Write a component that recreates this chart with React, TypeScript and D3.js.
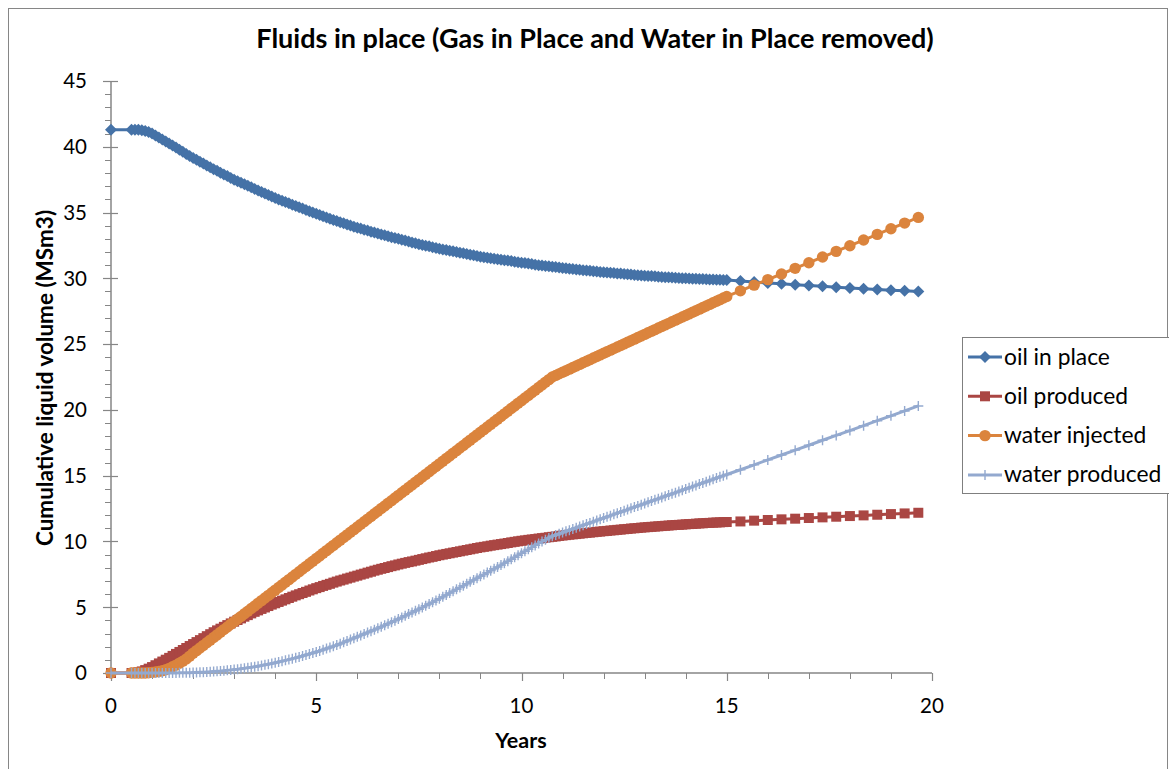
import React from 'react';
import * as d3 from 'd3';

// time axis in months since start (dense monthly output, then every 4 months)
const months = [
  0,
  6, 7, 8, 9, 10, 11, 12, 13, 14, 15,
  16, 17, 18, 19, 20, 21, 22, 23, 24, 25,
  26, 27, 28, 29, 30, 31, 32, 33, 34, 35,
  36, 37, 38, 39, 40, 41, 42, 43, 44, 45,
  46, 47, 48, 49, 50, 51, 52, 53, 54, 55,
  56, 57, 58, 59, 60, 61, 62, 63, 64, 65,
  66, 67, 68, 69, 70, 71, 72, 73, 74, 75,
  76, 77, 78, 79, 80, 81, 82, 83, 84, 85,
  86, 87, 88, 89, 90, 91, 92, 93, 94, 95,
  96, 97, 98, 99, 100, 101, 102, 103, 104, 105,
  106, 107, 108, 109, 110, 111, 112, 113, 114, 115,
  116, 117, 118, 119, 120, 121, 122, 123, 124, 125,
  126, 127, 128, 129, 130, 131, 132, 133, 134, 135,
  136, 137, 138, 139, 140, 141, 142, 143, 144, 145,
  146, 147, 148, 149, 150, 151, 152, 153, 154, 155,
  156, 157, 158, 159, 160, 161, 162, 163, 164, 165,
  166, 167, 168, 169, 170, 171, 172, 173, 174, 175,
  176, 177, 178, 179, 180,
  184, 188, 192, 196, 200, 204, 208, 212, 216, 220, 224, 228, 232, 236,
];

const oilInPlace = [
  41.30,
  41.30, 41.30, 41.29, 41.25, 41.19, 41.13, 41.00, 40.85, 40.70, 40.55,
  40.40, 40.25, 40.10, 39.94, 39.78, 39.62, 39.45, 39.30, 39.15, 39.01,
  38.87, 38.73, 38.58, 38.44, 38.30, 38.17, 38.03, 37.90, 37.77, 37.63,
  37.50, 37.38, 37.27, 37.15, 37.03, 36.92, 36.80, 36.68, 36.57, 36.45,
  36.33, 36.22, 36.10, 36.00, 35.90, 35.80, 35.70, 35.60, 35.50, 35.40,
  35.30, 35.20, 35.10, 35.00, 34.90, 34.81, 34.72, 34.63, 34.53, 34.44,
  34.35, 34.27, 34.18, 34.10, 34.02, 33.93, 33.85, 33.78, 33.70, 33.63,
  33.55, 33.48, 33.40, 33.33, 33.27, 33.20, 33.13, 33.07, 33.00, 32.93,
  32.87, 32.80, 32.73, 32.67, 32.60, 32.54, 32.48, 32.43, 32.37, 32.31,
  32.25, 32.20, 32.15, 32.10, 32.05, 32.00, 31.95, 31.90, 31.85, 31.80,
  31.75, 31.70, 31.65, 31.61, 31.57, 31.53, 31.49, 31.45, 31.42, 31.38,
  31.35, 31.31, 31.26, 31.23, 31.19, 31.16, 31.12, 31.09, 31.04, 31.00,
  30.97, 30.94, 30.91, 30.88, 30.86, 30.82, 30.79, 30.77, 30.73, 30.71,
  30.68, 30.65, 30.62, 30.59, 30.57, 30.54, 30.52, 30.49, 30.47, 30.44,
  30.42, 30.40, 30.37, 30.36, 30.33, 30.31, 30.29, 30.26, 30.24, 30.22,
  30.20, 30.18, 30.17, 30.15, 30.12, 30.11, 30.09, 30.08, 30.06, 30.05,
  30.03, 30.01, 30.00, 29.99, 29.97, 29.96, 29.95, 29.94, 29.93, 29.92,
  29.91, 29.90, 29.89, 29.88, 29.87,
  29.80, 29.72, 29.65, 29.58, 29.51, 29.45, 29.39, 29.33, 29.27, 29.21, 29.15, 29.10, 29.05, 29.00,
];

const oilProduced = [
  0,
  0.00, 0.02, 0.05, 0.12, 0.22, 0.33, 0.45, 0.59, 0.73, 0.87,
  1.01, 1.15, 1.30, 1.45, 1.60, 1.75, 1.90, 2.05, 2.20, 2.35,
  2.50, 2.65, 2.80, 2.95, 3.10, 3.24, 3.37, 3.51, 3.64, 3.77,
  3.90, 4.03, 4.15, 4.28, 4.40, 4.53, 4.65, 4.76, 4.87, 4.98,
  5.09, 5.20, 5.30, 5.40, 5.50, 5.60, 5.70, 5.80, 5.90, 5.99,
  6.08, 6.17, 6.27, 6.36, 6.45, 6.53, 6.62, 6.70, 6.78, 6.87,
  6.95, 7.03, 7.10, 7.18, 7.25, 7.33, 7.40, 7.48, 7.55, 7.63,
  7.70, 7.78, 7.85, 7.92, 7.98, 8.05, 8.12, 8.18, 8.25, 8.31,
  8.37, 8.43, 8.48, 8.54, 8.60, 8.66, 8.72, 8.78, 8.83, 8.89,
  8.95, 9.00, 9.05, 9.10, 9.15, 9.20, 9.25, 9.30, 9.35, 9.40,
  9.45, 9.50, 9.55, 9.59, 9.63, 9.68, 9.72, 9.76, 9.80, 9.84,
  9.88, 9.93, 9.97, 10.01, 10.05, 10.08, 10.12, 10.15, 10.18, 10.22,
  10.25, 10.28, 10.32, 10.35, 10.38, 10.42, 10.45, 10.48, 10.51, 10.54,
  10.56, 10.59, 10.62, 10.65, 10.67, 10.70, 10.73, 10.75, 10.78, 10.80,
  10.83, 10.85, 10.88, 10.90, 10.93, 10.95, 10.98, 11.00, 11.02, 11.05,
  11.07, 11.09, 11.11, 11.13, 11.15, 11.17, 11.19, 11.21, 11.23, 11.25,
  11.26, 11.28, 11.30, 11.32, 11.33, 11.35, 11.37, 11.38, 11.40, 11.41,
  11.43, 11.44, 11.45, 11.47, 11.48,
  11.52, 11.58, 11.63, 11.68, 11.73, 11.78, 11.83, 11.88, 11.93, 11.98, 12.03, 12.08, 12.13, 12.18,
];

const waterInjected = [
  0,
  0.00, 0.00, 0.00, 0.00, 0.00, 0.02, 0.05, 0.08, 0.12, 0.17,
  0.25, 0.35, 0.47, 0.60, 0.75, 0.90, 1.07, 1.28, 1.50, 1.70,
  1.90, 2.10, 2.30, 2.50, 2.70, 2.90, 3.10, 3.30, 3.50, 3.70,
  3.90, 4.10, 4.30, 4.50, 4.70, 4.90, 5.10, 5.30, 5.50, 5.70,
  5.90, 6.10, 6.30, 6.50, 6.70, 6.90, 7.10, 7.30, 7.50, 7.70,
  7.90, 8.10, 8.30, 8.50, 8.70, 8.90, 9.10, 9.30, 9.50, 9.70,
  9.90, 10.10, 10.30, 10.50, 10.70, 10.90, 11.10, 11.30, 11.50, 11.70,
  11.90, 12.10, 12.30, 12.50, 12.70, 12.90, 13.10, 13.30, 13.50, 13.70,
  13.90, 14.10, 14.30, 14.50, 14.70, 14.90, 15.10, 15.30, 15.50, 15.70,
  15.90, 16.10, 16.30, 16.50, 16.70, 16.90, 17.10, 17.30, 17.50, 17.70,
  17.90, 18.10, 18.30, 18.50, 18.70, 18.90, 19.10, 19.30, 19.50, 19.70,
  19.90, 20.10, 20.30, 20.50, 20.70, 20.90, 21.10, 21.30, 21.50, 21.70,
  21.90, 22.10, 22.30, 22.50, 22.62, 22.74, 22.86, 22.98, 23.10, 23.22,
  23.34, 23.46, 23.58, 23.70, 23.82, 23.94, 24.06, 24.18, 24.30, 24.42,
  24.54, 24.66, 24.78, 24.90, 25.02, 25.14, 25.26, 25.38, 25.50, 25.62,
  25.74, 25.86, 25.98, 26.10, 26.22, 26.34, 26.46, 26.58, 26.70, 26.82,
  26.94, 27.06, 27.18, 27.30, 27.42, 27.54, 27.66, 27.78, 27.90, 28.02,
  28.14, 28.26, 28.38, 28.50, 28.62,
  29.05, 29.48, 29.90, 30.33, 30.76, 31.19, 31.62, 32.05, 32.48, 32.91, 33.34, 33.77, 34.20, 34.63,
];

const waterProduced = [
  0,
  0.00, 0.00, 0.00, 0.00, 0.00, 0.00, 0.00, 0.00, 0.00, 0.00,
  0.00, 0.00, 0.00, 0.00, 0.01, 0.01, 0.02, 0.02, 0.03, 0.04,
  0.05, 0.06, 0.08, 0.09, 0.11, 0.13, 0.15, 0.18, 0.20, 0.23,
  0.26, 0.29, 0.33, 0.36, 0.40, 0.43, 0.47, 0.52, 0.57, 0.62,
  0.67, 0.72, 0.78, 0.84, 0.90, 0.96, 1.02, 1.09, 1.15, 1.22,
  1.30, 1.37, 1.45, 1.52, 1.60, 1.68, 1.77, 1.86, 1.94, 2.03,
  2.12, 2.22, 2.33, 2.44, 2.54, 2.65, 2.75, 2.86, 2.97, 3.08,
  3.18, 3.29, 3.40, 3.51, 3.63, 3.75, 3.86, 3.98, 4.10, 4.22,
  4.35, 4.48, 4.60, 4.73, 4.85, 4.98, 5.12, 5.25, 5.38, 5.52,
  5.65, 5.79, 5.93, 6.08, 6.22, 6.36, 6.50, 6.64, 6.78, 6.93,
  7.07, 7.21, 7.35, 7.49, 7.63, 7.78, 7.92, 8.06, 8.20, 8.35,
  8.50, 8.65, 8.80, 8.95, 9.10, 9.25, 9.40, 9.55, 9.70, 9.85,
  10.00, 10.13, 10.27, 10.40, 10.49, 10.58, 10.68, 10.77, 10.86, 10.95,
  11.04, 11.14, 11.23, 11.32, 11.41, 11.50, 11.60, 11.69, 11.78, 11.87,
  11.96, 12.06, 12.15, 12.24, 12.33, 12.42, 12.52, 12.61, 12.70, 12.79,
  12.88, 12.98, 13.07, 13.16, 13.25, 13.34, 13.44, 13.53, 13.62, 13.71,
  13.80, 13.90, 13.99, 14.08, 14.17, 14.26, 14.36, 14.45, 14.54, 14.63,
  14.72, 14.82, 14.91, 15.00, 15.09,
  15.45, 15.82, 16.20, 16.57, 16.94, 17.31, 17.69, 18.06, 18.43, 18.80, 19.18, 19.55, 19.92, 20.30,
];

const seriesNames = ['oil in place', 'oil produced', 'water injected', 'water produced'];
const seriesColors = ['#4572A7', '#AA4643', '#DB843D', '#93A9CF'];
const seriesMarkers = ['diamond', 'square', 'circle', 'plus'];
const xTickValues = [0, 5, 10, 15, 20];
const yTickValues = [0, 5, 10, 15, 20, 25, 30, 35, 40, 45];

const TITLE = 'Fluids in place (Gas in Place and Water in Place removed)';
const X_TITLE = 'Years';
const Y_TITLE = 'Cumulative liquid volume (MSm3)';

const FONT = 'Lato, "Open Sans", sans-serif';
const AXIS = '#868686';

function Marker({ kind, color, x, y }: { kind: string; color: string; x: number; y: number }) {
  const t = `translate(${x},${y})`;
  if (kind === 'diamond') return <path transform={t} d="M0,-6L6,0L0,6L-6,0Z" fill={color} />;
  if (kind === 'square') return <path transform={t} d="M-5,-5H5V5H-5Z" fill={color} />;
  if (kind === 'circle') return <circle transform={t} r={5.7} fill={color} />;
  return <path transform={t} d="M-5,0H5M0,-5V5" stroke={color} strokeWidth={1.4} fill="none" />;
}

export default function App() {
  const W = 1169;
  const H = 769;
  const x = d3.scaleLinear().domain([0, 20]).range([111, 932]);
  const y = d3.scaleLinear().domain([0, 45]).range([673, 81]);
  const years = months.map((m) => m / 12);
  const data = [oilInPlace, oilProduced, waterInjected, waterProduced];

  const line = d3
    .line<number>()
    .x((_, i) => x(years[i]))
    .y((v) => y(v));

  const xMinor = x.ticks(20);
  const yMinor = y.ticks(45);

  const legendX = 962;
  const legendY = 337;
  const rowH = 39.3;

  return (
    <svg
      width={W}
      height={H}
      style={{ position: 'absolute', left: 0, top: 0, background: '#fff' }}
      fontFamily={FONT}
    >
      <rect x={8.5} y={8.5} width={1159} height={790} fill="#fff" stroke={AXIS} strokeWidth={1} />

      <text x={595} y={48} textAnchor="middle" fontSize={27} fontWeight={700} fill="#000">
        {TITLE}
      </text>

      {/* y axis */}
      <line x1={111} x2={111} y1={y(45)} y2={y(0)} stroke={AXIS} strokeWidth={1.5} />
      {yMinor.map((v) => (
        <line key={'ym' + v} x1={105} x2={111} y1={Math.round(y(v)) + 0.5} y2={Math.round(y(v)) + 0.5} stroke={AXIS} />
      ))}
      {yTickValues.map((v) => (
        <g key={'y' + v}>
          <line x1={103} x2={118} y1={Math.round(y(v)) + 0.5} y2={Math.round(y(v)) + 0.5} stroke={AXIS} strokeWidth={1.2} />
          <text x={87} y={y(v) + 7.3} textAnchor="end" fontSize={20.5} fill="#000">
            {v}
          </text>
        </g>
      ))}

      {/* x axis */}
      <line x1={x(0)} x2={x(20)} y1={673} y2={673} stroke={AXIS} strokeWidth={1.5} />
      {xMinor.map((v) => (
        <line key={'xm' + v} x1={Math.round(x(v)) + 0.5} x2={Math.round(x(v)) + 0.5} y1={673} y2={679} stroke={AXIS} />
      ))}
      {xTickValues.map((v) => (
        <g key={'x' + v}>
          <line x1={Math.round(x(v)) + 0.5} x2={Math.round(x(v)) + 0.5} y1={673} y2={681} stroke={AXIS} strokeWidth={1.2} />
          <text x={x(v)} y={713} textAnchor="middle" fontSize={20.5} fill="#000">
            {v}
          </text>
        </g>
      ))}

      <text x={521} y={748} textAnchor="middle" fontSize={21.5} fontWeight={700} fill="#000">
        {X_TITLE}
      </text>
      <text
        transform={`translate(53,378) rotate(-90)`}
        textAnchor="middle"
        fontSize={22.5}
        fontWeight={700}
        fill="#000"
      >
        {Y_TITLE}
      </text>

      {/* series */}
      {data.map((vals, si) => (
        <g key={'s' + si}>
          <path d={line(vals) || ''} fill="none" stroke={seriesColors[si]} strokeWidth={3} strokeLinejoin="round" />
          {vals.map((v, i) => (
            <Marker key={i} kind={seriesMarkers[si]} color={seriesColors[si]} x={x(years[i])} y={y(v)} />
          ))}
        </g>
      ))}

      {/* legend */}
      <rect x={legendX + 0.5} y={legendY + 0.5} width={220} height={156} fill="#fff" stroke="#7f7f7f" strokeWidth={1} />
      {seriesNames.map((name, i) => {
        const cy = legendY + 20 + i * rowH;
        return (
          <g key={'l' + i}>
            <line x1={968} x2={1002} y1={cy} y2={cy} stroke={seriesColors[i]} strokeWidth={3} />
            <Marker kind={seriesMarkers[i]} color={seriesColors[i]} x={985} y={cy} />
            <text x={1004} y={cy + 7.5} fontSize={22.8} fill="#000">
              {name}
            </text>
          </g>
        );
      })}
    </svg>
  );
}
